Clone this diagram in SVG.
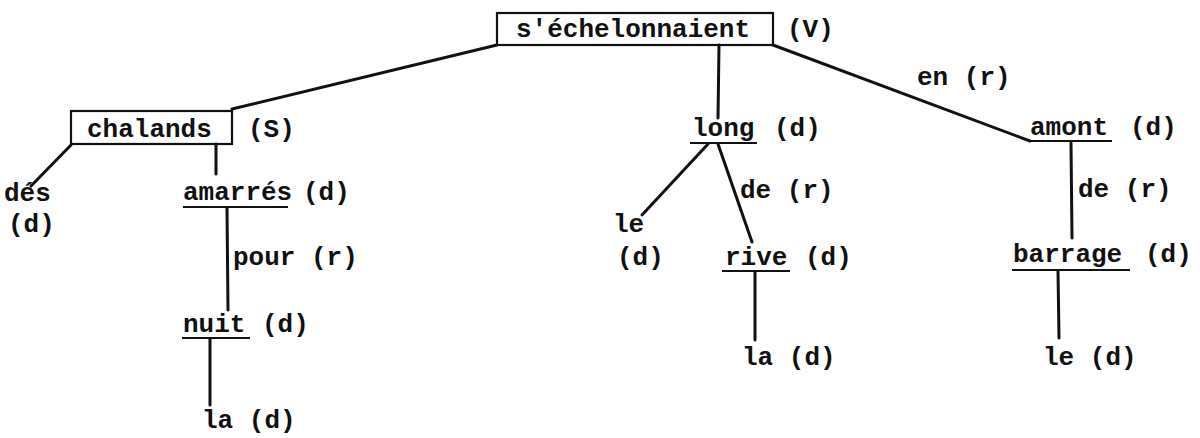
<svg xmlns="http://www.w3.org/2000/svg" width="1200" height="438" viewBox="0 0 1200 438">
<style>
text{font-family:"Liberation Mono","DejaVu Sans Mono",monospace;font-size:26px;font-weight:bold;fill:#111}
.c line{stroke:#111;stroke-width:3;stroke-linecap:round}
.u{stroke:#111;stroke-width:2.2}
.box{fill:none;stroke:#111;stroke-width:2.2}
</style>
<rect width="1200" height="438" fill="#fff"/>
<g class="c" id="connectors">
<line x1="497" y1="45" x2="232" y2="109"/>
<line x1="719" y1="45" x2="718" y2="118"/>
<line x1="773" y1="45" x2="1030" y2="141"/>
<line x1="71" y1="145" x2="31" y2="186"/>
<line x1="216" y1="144" x2="216" y2="174"/>
<line x1="227" y1="208" x2="228" y2="310"/>
<line x1="210" y1="339" x2="210" y2="405"/>
<line x1="708" y1="144" x2="642" y2="215"/>
<line x1="718" y1="144" x2="752" y2="242"/>
<line x1="755" y1="272" x2="755" y2="340"/>
<line x1="1071" y1="143" x2="1072" y2="238"/>
<line x1="1058" y1="271" x2="1059" y2="338"/>
</g>
<text x="917" y="85">en (r)</text>
<text x="233" y="265">pour (r)</text>
<text x="740" y="198">de (r)</text>
<text x="1078" y="197">de (r)</text>
<g id="n-sechelonnaient">
<rect class="box" x="497" y="13" width="276" height="32"/>
<text x="516" y="37">s'échelonnaient</text>
<text x="787" y="37">(V)</text>
</g>
<g id="n-chalands">
<rect class="box" x="71" y="111" width="161" height="33"/>
<text x="87" y="137">chalands</text>
<text x="248" y="137">(S)</text>
</g>
<g id="n-des">
<text x="4" y="201">dés</text>
<text x="8" y="232">(d)</text>
</g>
<g id="n-amarres">
<text x="183" y="200">amarrés</text>
<line class="u" x1="183" y1="207" x2="288" y2="207"/>
<text x="303" y="200">(d)</text>
</g>
<g id="n-nuit">
<text x="183" y="332">nuit</text>
<line class="u" x1="182" y1="338" x2="250" y2="338"/>
<text x="262" y="332">(d)</text>
</g>
<g id="n-la1">
<text x="202" y="428">la (d)</text>
</g>
<g id="n-long">
<text x="692" y="136">long</text>
<line class="u" x1="690" y1="143" x2="757" y2="143"/>
<text x="774" y="136">(d)</text>
</g>
<g id="n-le1">
<text x="613" y="232">le</text>
<text x="617" y="265">(d)</text>
</g>
<g id="n-rive">
<text x="725" y="265">rive</text>
<line class="u" x1="722" y1="271" x2="790" y2="271"/>
<text x="805" y="265">(d)</text>
</g>
<g id="n-la2">
<text x="742" y="365">la (d)</text>
</g>
<g id="n-amont">
<text x="1030" y="135">amont</text>
<line class="u" x1="1030" y1="141" x2="1112" y2="141"/>
<text x="1130" y="135">(d)</text>
</g>
<g id="n-barrage">
<text x="1013" y="262">barrage</text>
<line class="u" x1="1012" y1="270" x2="1130" y2="270"/>
<text x="1145" y="262">(d)</text>
</g>
<g id="n-le2">
<text x="1043" y="365">le (d)</text>
</g>
</svg>
